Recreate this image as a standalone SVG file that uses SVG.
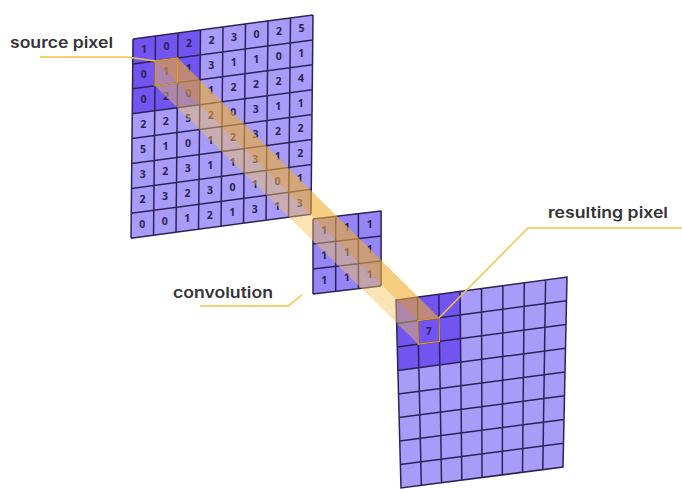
<svg xmlns="http://www.w3.org/2000/svg" width="682" height="489" viewBox="0 0 682 489">
<style>
.light{fill:#a89cf8}
.dark{fill:#7254f1}
.kfill{fill:#9585f5}
.grid{fill:none;stroke:#2b2357;stroke-width:1.5}
.n{font-family:'Open Sans','Noto Sans',sans-serif;font-weight:700;font-size:10.5px;fill:#2a2450;text-anchor:middle}
.lbl{font-family:Inter,'Noto Sans',sans-serif;font-weight:600;font-size:15px;fill:#333338}
.lead{fill:none;stroke:#f0c445;stroke-width:1.5}
.outline{fill:none;stroke:#dc9a30;stroke-width:1.3}
</style>
<rect width="682" height="489" fill="#ffffff"/>

<g id="source-grid">
  <g transform="matrix(1,-0.1333,-0.01,1,133,39)">
    <rect class="light" x="0" y="0" width="180" height="199.2"/>
    <rect class="dark" x="0" y="0" width="67.5" height="74.7"/>
    <path class="grid" d="M0 0V199.2M22.5 0V199.2M45 0V199.2M67.5 0V199.2M90 0V199.2M112.5 0V199.2M135 0V199.2M157.5 0V199.2M180 0V199.2M0 0H180M0 24.9H180M0 49.8H180M0 74.7H180M0 99.6H180M0 124.5H180M0 149.4H180M0 174.3H180M0 199.2H180"/>
  </g>
  <g transform="translate(132.875,54.95)"><text class="n" x="11.25" y="-1.5">1</text><text class="n" x="33.75" y="-4.5">0</text><text class="n" x="56.25" y="-7.5">2</text><text class="n" x="78.75" y="-10.5">2</text><text class="n" x="101.25" y="-13.5">3</text><text class="n" x="123.75" y="-16.5">0</text><text class="n" x="146.25" y="-19.5">2</text><text class="n" x="168.75" y="-22.5">5</text></g>
  <g transform="translate(132.625,79.85)"><text class="n" x="11.25" y="-1.5">0</text><text class="n" x="33.75" y="-4.5">1</text><text class="n" x="56.25" y="-7.5">1</text><text class="n" x="78.75" y="-10.5">3</text><text class="n" x="101.25" y="-13.5">1</text><text class="n" x="123.75" y="-16.5">1</text><text class="n" x="146.25" y="-19.5">0</text><text class="n" x="168.75" y="-22.5">1</text></g>
  <g transform="translate(132.375,104.75)"><text class="n" x="11.25" y="-1.5">0</text><text class="n" x="33.75" y="-4.5">2</text><text class="n" x="56.25" y="-7.5">0</text><text class="n" x="78.75" y="-10.5">1</text><text class="n" x="101.25" y="-13.5">2</text><text class="n" x="123.75" y="-16.5">2</text><text class="n" x="146.25" y="-19.5">2</text><text class="n" x="168.75" y="-22.5">4</text></g>
  <g transform="translate(132.125,129.65)"><text class="n" x="11.25" y="-1.5">2</text><text class="n" x="33.75" y="-4.5">2</text><text class="n" x="56.25" y="-7.5">5</text><text class="n" x="78.75" y="-10.5">2</text><text class="n" x="101.25" y="-13.5">0</text><text class="n" x="123.75" y="-16.5">3</text><text class="n" x="146.25" y="-19.5">1</text><text class="n" x="168.75" y="-22.5">1</text></g>
  <g transform="translate(131.875,154.55)"><text class="n" x="11.25" y="-1.5">5</text><text class="n" x="33.75" y="-4.5">1</text><text class="n" x="56.25" y="-7.5">0</text><text class="n" x="78.75" y="-10.5">1</text><text class="n" x="101.25" y="-13.5">2</text><text class="n" x="123.75" y="-16.5">3</text><text class="n" x="146.25" y="-19.5">2</text><text class="n" x="168.75" y="-22.5">2</text></g>
  <g transform="translate(131.625,179.45)"><text class="n" x="11.25" y="-1.5">3</text><text class="n" x="33.75" y="-4.5">2</text><text class="n" x="56.25" y="-7.5">3</text><text class="n" x="78.75" y="-10.5">1</text><text class="n" x="101.25" y="-13.5">1</text><text class="n" x="123.75" y="-16.5">3</text><text class="n" x="146.25" y="-19.5">1</text><text class="n" x="168.75" y="-22.5">2</text></g>
  <g transform="translate(131.375,204.35)"><text class="n" x="11.25" y="-1.5">2</text><text class="n" x="33.75" y="-4.5">3</text><text class="n" x="56.25" y="-7.5">2</text><text class="n" x="78.75" y="-10.5">3</text><text class="n" x="101.25" y="-13.5">0</text><text class="n" x="123.75" y="-16.5">1</text><text class="n" x="146.25" y="-19.5">0</text><text class="n" x="168.75" y="-22.5">1</text></g>
  <g transform="translate(131.125,229.25)"><text class="n" x="11.25" y="-1.5">0</text><text class="n" x="33.75" y="-4.5">0</text><text class="n" x="56.25" y="-7.5">1</text><text class="n" x="78.75" y="-10.5">2</text><text class="n" x="101.25" y="-13.5">1</text><text class="n" x="123.75" y="-16.5">3</text><text class="n" x="146.25" y="-19.5">1</text><text class="n" x="168.75" y="-22.5">3</text></g>
</g>

<g id="kernel">
  <g transform="matrix(1,-0.119,0,1,313,219)">
    <rect class="kfill" x="0" y="0" width="68.1" height="75"/>
    <path class="grid" d="M0 0V75M22.7 0V75M45.4 0V75M68.1 0V75M0 0H68.1M0 25H68.1M0 50H68.1M0 75H68.1"/>
  </g>
  <g transform="translate(313,235)"><text class="n" x="11.35" y="-1.35">1</text><text class="n" x="34.05" y="-4.05">1</text><text class="n" x="56.75" y="-6.75">1</text></g>
  <g transform="translate(313,260)"><text class="n" x="11.35" y="-1.35">1</text><text class="n" x="34.05" y="-4.05">1</text><text class="n" x="56.75" y="-6.75">1</text></g>
  <g transform="translate(313,285)"><text class="n" x="11.35" y="-1.35">1</text><text class="n" x="34.05" y="-4.05">1</text><text class="n" x="56.75" y="-6.75">1</text></g>
</g>

<g id="result-grid">
  <polygon class="light" points="396,300 567,277 563,467 401,488"/>
  <polygon class="dark" points="396,300 460.1,291.4 460.7,362.2 397.9,370.5"/>
  <path class="grid" d="M396 300L567 277L563 467L401 488Z
    M417.4 297.1L421.3 485.4M438.8 294.3L441.5 482.8M460.1 291.4L461.8 480.1M481.5 288.5L482 477.5M502.9 285.6L502.3 474.9M524.3 282.8L522.5 472.3M545.6 279.9L542.8 469.6
    M396.6 323.5L566.5 300.75M397.25 347L566 324.5M397.9 370.5L565.5 348.25M398.5 394L565 372M399.1 417.5L564.5 395.75M399.75 441L564 419.5M400.4 464.5L563.5 443.25"/>
  <text class="n" x="428.7" y="335">7</text>
</g>

<g id="beam">
  <polygon points="177.8,57.9 439.1,317.8 417.9,320.7 155.3,60.9" fill="#f2ad2c" fill-opacity="0.6"/>
  <polygon points="155.3,60.9 417.9,320.7 418.3,344.2 155,85.8" fill="#f5c458" fill-opacity="0.45"/>
  <polygon class="outline" points="155.3,60.9 177.8,57.9 177.5,82.8 155,85.8"/>
  <polygon class="outline" points="417.9,320.7 439.1,317.8 439.4,341.4 418.3,344.2"/>
</g>

<g id="connectors">
  <polyline class="lead" points="40,57 127,57 155.3,60.9"/>
  <polyline class="lead" points="200,306 288,306 302,295"/>
  <polyline class="lead" points="682,228 528,228 439.1,317.8"/>
</g>

<g id="label-source"><text class="lbl" x="10" y="48" textLength="103" lengthAdjust="spacingAndGlyphs">source pixel</text></g>
<g id="label-convolution"><text class="lbl" x="173" y="298" textLength="100" lengthAdjust="spacingAndGlyphs">convolution</text></g>
<g id="label-result"><text class="lbl" x="548" y="218" textLength="120" lengthAdjust="spacingAndGlyphs">resulting pixel</text></g>
</svg>
